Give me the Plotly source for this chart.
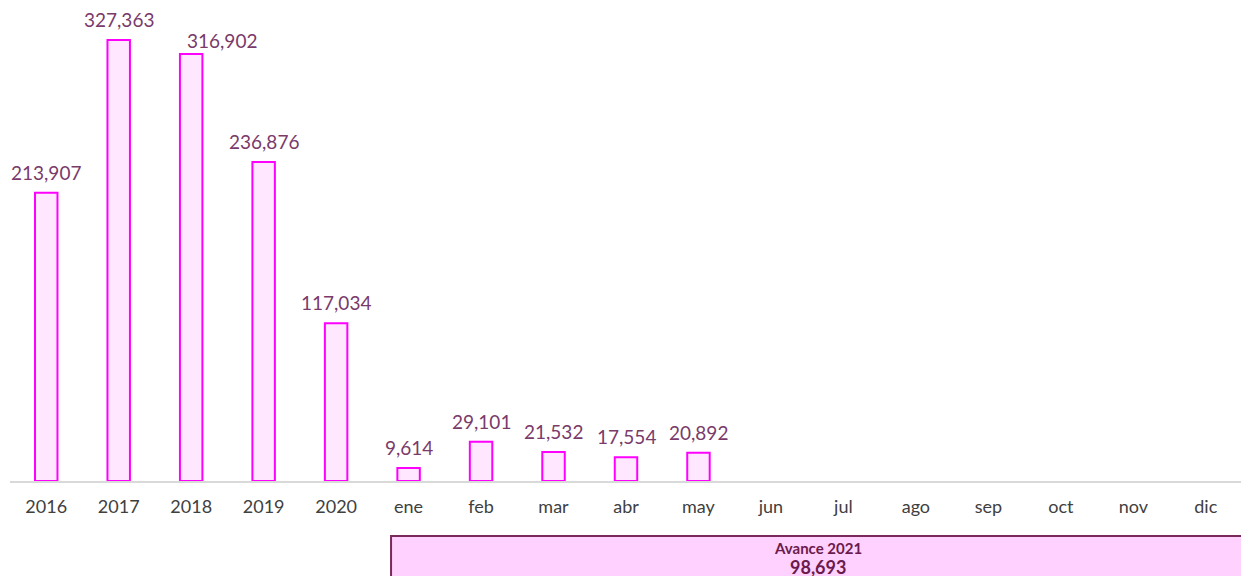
import plotly.graph_objects as go

categories = ["2016", "2017", "2018", "2019", "2020", "ene", "feb", "mar", "abr", "may",
              "jun", "jul", "ago", "sep", "oct", "nov", "dic"]
values = [213907, 327363, 316902, 236876, 117034, 9614, 29101, 21532, 17554, 20892,
          None, None, None, None, None, None, None]
avance_label = "Avance 2021"
avance_total = "98,693"

label_color = "#7A3A6A"
font_family = "Lato, 'DejaVu Sans', sans-serif"

fig = go.Figure()
fig.add_trace(go.Bar(
    x=categories, y=values,
    marker=dict(color="#FFE8FF", line=dict(color="#FF00FF", width=2)),
    hoverinfo="x+y",
))

annotations = []
for i, (c, v) in enumerate(zip(categories, values)):
    if v is None:
        continue
    xs, ys = 0, 7
    if c == "2018":
        xs, ys = 31, 0
    annotations.append(dict(
        x=i, y=v, xref="x", yref="y", text=f"{v:,}", showarrow=False,
        yanchor="bottom", xanchor="center", xshift=xs, yshift=ys,
        font=dict(size=19, color=label_color, family=font_family),
    ))

annotations.append(dict(
    x=0.656, y=-0.1416, xref="paper", yref="paper", text=f"<b>{avance_label}</b>",
    showarrow=False, xanchor="center", yanchor="middle",
    font=dict(size=15, color="#6B1A4B", family=font_family),
))
annotations.append(dict(
    x=0.656, y=-0.1818, xref="paper", yref="paper", text=f"<b>{avance_total}</b>",
    showarrow=False, xanchor="center", yanchor="middle",
    font=dict(size=18, color="#6B1A4B", family=font_family),
))

fig.update_layout(
    width=1249, height=568,
    margin=dict(l=2, r=15, t=0, b=95),
    paper_bgcolor="white", plot_bgcolor="white",
    bargap=0.69,
    showlegend=False,
    annotations=annotations,
    shapes=[dict(
        type="rect", xref="paper", yref="paper",
        x0=0.3093, x1=1.03, y0=-0.1163, y1=-0.3,
        fillcolor="#FFD1FF", line=dict(color="#7A2A5A", width=2), layer="below",
    )],
    xaxis=dict(
        type="category", range=[-0.5, len(categories) - 0.5],
        showgrid=False, showline=True, linecolor="#D9D9D9", linewidth=2,
        ticks="", tickfont=dict(size=18, color="#404040", family=font_family),
        ticklabelstandoff=8,
    ),
    yaxis=dict(visible=False, range=[0, 351115]),
)

fig.write_html("out.html")
